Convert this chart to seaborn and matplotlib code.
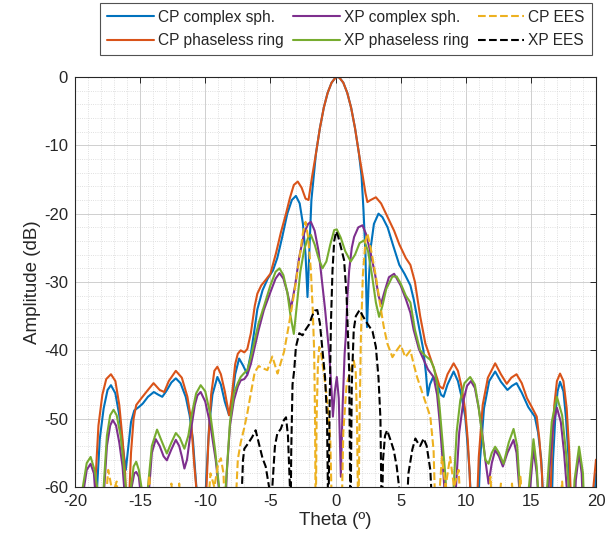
import numpy as np
import pandas as pd
import matplotlib
matplotlib.use("Agg")
import matplotlib.pyplot as plt
import seaborn as sns

# ---------------- data ----------------
theta_cp_complex = [-18.45, -18.3, -18.1, -17.8, -17.5, -17.24, -16.9, -16.6, -16.3, -16.1, -15.9, -15.7,
                    -15.45, -15.1, -14.8, -14.4, -13.95, -13.6, -13.3, -13.0, -12.6, -12.26, -11.9, -11.5,
                    -11.2, -10.95, -10.8, -10.6, -10.4, -10.1, -9.9, -9.7, -9.45, -9.07, -8.8, -8.5, -8.17,
                    -7.95, -7.7, -7.4, -7.1, -6.8, -6.5, -6.26, -6.0, -5.6, -5.2, -4.8, -4.47, -4.1, -3.7,
                    -3.35, -3.04, -2.75, -2.5, -2.3, -2.15, -2.0, -1.85, -1.5, -1.2, -0.9, -0.6, -0.3, 0.0,
                    0.15, 0.3, 0.6, 0.9, 1.2, 1.5, 1.8, 2.0, 2.15, 2.3, 2.42, 2.55, 2.7, 2.95, 3.3, 3.6, 4.0,
                    4.4, 4.9, 5.3, 5.75, 6.0, 6.3, 6.5, 6.75, 6.95, 7.08, 7.25, 7.5, 7.8, 8.1, 8.3, 8.6, 9.07,
                    9.4, 9.7, 9.96, 10.15, 10.3, 10.5, 10.9, 11.1, 11.4, 11.8, 12.26, 12.7, 13.2, 13.55, 13.9,
                    14.3, 14.8, 15.3, 15.55, 15.8, 16.05, 16.55, 16.7, 16.9, 17.05, 17.24, 17.5, 17.7, 17.9,
                    18.05, 19.75, 19.9, 20.0]
db_cp_complex = [-66, -60, -53, -48.5, -45.8, -45.1, -46.3, -49.5, -54.5, -57.5, -54, -50.5,
                 -48.8, -48.3, -47.8, -46.8, -46.1, -46.5, -46.8, -46.0, -44.7, -44.1, -44.8, -46.8,
                 -49.5, -53, -57, -62, -66, -66, -58, -51, -46.5, -43.9, -45, -47.5, -49.5,
                 -47.5, -43.5, -41.2, -42.2, -43.4, -40.5, -37.5, -34, -31.2, -29.5, -28.3, -26.5, -23.5, -20,
                 -18, -17.4, -18.5, -21.5, -26, -32.2, -25, -18, -11.2, -7.5, -4.5, -2.3, -0.83, -0.09,
                 0.0, -0.09, -0.83, -2.3, -4.5, -7.5, -11.2, -14.5, -19.5, -26, -36.6, -30, -25, -21.5, -20, -20.5, -22,
                 -24.5, -27.5, -28.8, -30.5, -32.5, -35.5, -37.5, -40, -43.5, -46.6, -45, -43.9, -44.8, -46.5, -46.8, -45, -43.1,
                 -44.5, -47, -49.7, -54, -58, -66, -66, -56, -48.5, -44.5, -43.1, -44.6, -45.8, -45.2, -44.8,
                 -46.2, -48.3, -49.7, -52, -56, -66, -66, -56, -49, -46, -44.6, -46, -50, -56,
                 -66, -66, -61, -58]

theta_cp_phaseless = [-18.55, -18.4, -18.2, -17.9, -17.6, -17.24, -16.9, -16.6, -16.35, -16.15, -16.0, -15.85,
                      -15.7, -15.5, -15.3, -14.9, -14.4, -13.97, -13.5, -13.15, -12.8, -12.26, -11.8, -11.37,
                      -11.1, -10.85, -10.6, -10.4, -10.2, -9.95, -9.75, -9.55, -9.3, -9.07, -8.8, -8.5, -8.17,
                      -7.95, -7.7, -7.5, -7.28, -7.0, -6.77, -6.5, -6.2, -6.0, -5.7, -5.36, -5.0, -4.57, -4.2,
                      -3.8, -3.5, -3.2, -2.9, -2.6, -2.3, -2.07, -1.8, -1.5, -1.2, -0.9, -0.6, -0.3, 0.0, 0.15,
                      0.3, 0.6, 0.9, 1.2, 1.5, 1.8, 2.1, 2.3, 2.45, 2.7, 3.1, 3.5, 4.1, 4.5, 4.9, 5.4, 5.75,
                      6.1, 6.5, 6.9, 7.3, 7.7, 8.0, 8.25, 8.6, 9.07, 9.4, 9.7, 9.96, 10.15, 10.3, 10.45, 10.8,
                      11.0, 11.3, 11.7, 12.26, 12.7, 13.15, 13.5, 13.9, 14.3, 14.7, 15.07, 15.45, 15.65, 15.85,
                      16.0, 16.45, 16.6, 16.8, 17.0, 17.24, 17.5, 17.75, 17.95, 18.15, 19.6, 19.8, 20.0]
db_cp_phaseless = [-66, -58, -51, -46.5, -44.2, -43.5, -44.5, -48, -53, -58, -66, -62,
                   -55, -50, -48, -47, -45.8, -44.8, -45.8, -46.1, -44.5, -43.0, -44, -46.8,
                   -50, -56.6, -62, -70, -70, -62, -53, -46.5, -43, -42.4, -43.5, -46, -49.5,
                   -46.5, -42, -40.5, -40, -40.3, -39.8, -37.5, -33.5, -31.7, -30.5, -29.7, -28.8, -25.8, -22.8,
                   -20, -17.7, -15.8, -15.3, -16.2, -17.8, -18, -14.6, -11.2, -7.5, -4.5, -2.3, -0.83, -0.09, 0.0,
                   -0.09, -0.83, -2.3, -4.5, -7.5, -11.2, -14.6, -17.0, -18.3, -18.0, -17.6, -18.5, -20.9, -22.5, -24.5, -26.5, -27.5,
                   -30, -35, -39, -41.2, -43.5, -45.3, -45.6, -43.5, -41.9, -43, -45.5, -48.8, -53, -58, -66, -66,
                   -55.6, -48, -44, -41.9, -43.5, -44.9, -44, -43.5, -44.8, -47, -48.3, -49.7, -53, -58,
                   -66, -66, -55, -48, -44.5, -43.4, -44.5, -48.5, -55, -66, -66, -60, -56]

theta_xp_complex = [-19.5, -19.3, -19.1, -18.8, -18.55, -18.4, -18.25, -17.9, -17.75, -17.55, -17.3, -17.1,
                    -16.85, -16.6, -16.35, -16.15, -16.0, -15.8, -15.65, -15.45, -15.3, -15.1, -14.9, -14.7,
                    -14.5, -14.3, -14.1, -13.8, -13.5, -13.2, -12.95, -12.6, -12.26, -12.0, -11.8, -11.6, -11.4,
                    -11.1, -10.8, -10.6, -10.35, -10.0, -9.6, -9.2, -8.85, -8.7, -8.5, -8.35, -8.1, -7.8, -7.5,
                    -7.28, -7.0, -6.77, -6.5, -6.26, -5.9, -5.5, -5.0, -4.6, -4.3, -4.0, -3.7, -3.42, -3.1, -2.78,
                    -2.4, -2.1, -1.89, -1.6, -1.3, -1.13, -0.8, -0.48, -0.3, -0.2, -0.05, 0.1, 0.25, 0.41, 0.55,
                    0.7, 0.79, 0.92, 1.05, 1.25, 1.43, 1.75, 2.07, 2.35, 2.7, 3.05, 3.3, 3.5, 3.75, 4.1, 4.5,
                    5.0, 5.4, 5.75, 6.0, 6.4, 6.77, 7.1, 7.53, 7.8, 8.0, 8.17, 8.35, 8.45, 9.1, 9.25, 9.5, 9.83,
                    10.1, 10.4, 10.7, 11.0, 11.24, 11.5, 11.75, 12.0, 12.26, 12.55, 12.85, 13.2, 13.67, 13.9,
                    14.1, 14.25, 14.8, 14.95, 15.2, 15.45, 15.6, 15.7, 16.25, 16.4, 16.7, 17.0, 17.3, 17.55,
                    17.75, 17.85, 18.3, 18.45, 18.7, 18.9, 19.05]
db_xp_complex = [-66, -60, -57.5, -56.6, -58, -62, -66, -66, -60, -54, -51, -50.2,
                 -51, -53.5, -57, -62, -66, -66, -60, -58, -57.8, -58.5, -62, -66,
                 -66, -60, -55, -53, -54, -55.5, -56.1, -54.5, -53.1, -54, -55.5, -57.3, -56,
                 -51.7, -48, -46.6, -46.1, -47.5, -51, -56, -62, -66, -66, -58, -51, -47.3, -45.3,
                 -44.4, -44.2, -43.6, -42, -40, -37, -34.1, -31.5, -29.5, -28.7, -29.5, -31.5, -33.9, -30.5, -26.3,
                 -22.8, -21.5, -21.2, -22.5, -25.5, -28.3, -34, -40.5, -46, -49.7, -46, -43.9, -47, -58.5, -48,
                 -40.5, -38, -32, -28.3, -25, -23.4, -22, -21.7, -23, -25.8, -29, -32, -33.2, -31.5, -29.3, -28.8,
                 -30.5, -32.5, -34.5, -37, -39.8, -41.4, -42.8, -43.9, -46.5, -50.5, -54.6, -60, -66, -66, -60, -52, -47.3,
                 -45.2, -44.5, -45.5, -48.5, -51.7, -56, -59.5, -56.5, -54.6, -55.5, -57, -55, -53.1, -55,
                 -60, -66, -66, -60, -54.4, -58, -62, -66, -66, -58, -51, -48.4, -50.5, -55,
                 -60, -66, -66, -59, -55, -58, -66]

theta_xp_phaseless = [-19.55, -19.4, -19.1, -18.8, -18.5, -18.3, -18.15, -17.95, -17.8, -17.55, -17.3, -17.04,
                      -16.8, -16.5, -16.25, -16.1, -15.95, -15.85, -15.7, -15.5, -15.3, -15.1, -14.9, -14.75,
                      -14.55, -14.4, -14.1, -13.7, -13.3, -12.95, -12.6, -12.26, -11.95, -11.6, -11.3, -11.0,
                      -10.7, -10.35, -10.0, -9.6, -9.25, -8.94, -8.8, -8.55, -8.43, -8.1, -7.8, -7.5, -7.28, -7.0,
                      -6.77, -6.5, -6.26, -5.9, -5.5, -5.0, -4.6, -4.3, -4.0, -3.7, -3.45, -3.2, -2.95, -2.7, -2.4,
                      -2.1, -1.89, -1.6, -1.3, -1.0, -0.7, -0.4, -0.1, 0.1, 0.4, 0.75, 1.17, 1.5, 1.85, 2.2, 2.5,
                      2.8, 3.1, 3.35, 3.6, 3.9, 4.37, 4.7, 5.0, 5.4, 5.75, 6.1, 6.5, 6.9, 7.28, 7.55, 7.8, 8.0,
                      8.2, 8.4, 8.56, 8.65, 8.95, 9.07, 9.3, 9.58, 9.9, 10.34, 10.7, 11.0, 11.3, 11.5, 11.75,
                      12.0, 12.26, 12.55, 12.9, 13.3, 13.67, 13.95, 14.15, 14.3, 14.7, 14.85, 15.2, 15.45, 15.6,
                      15.7, 16.1, 16.25, 16.6, 17.0, 17.4, 17.7, 17.9, 18.0, 18.2, 18.35, 18.7, 19.0, 19.15]
db_xp_phaseless = [-66, -60, -56.5, -55.6, -57.5, -60, -66, -66, -60, -52.5, -49.5, -48.7,
                   -49.5, -52.5, -57, -60, -66, -66, -60, -57, -56.3, -57.5, -60, -66,
                   -66, -60, -54, -51.6, -53.5, -55.1, -53.5, -52.1, -52.8, -54.4, -52.5, -49,
                   -46.3, -45.1, -46, -49.5, -54.5, -60, -66, -66, -60, -50.5, -46.3, -44.8, -43.9, -43.3,
                   -42.9, -41, -39, -36, -33.6, -30.5, -28.5, -28, -29, -31.5, -35, -37.6, -33, -28.5, -25.2,
                   -23.5, -23.1, -24.5, -26.5, -28, -27, -24.5, -22.4, -22.3, -23.5, -25.5, -27, -26, -24.3, -23.9, -25.5,
                   -29, -33, -35.1, -33.5, -31, -29.2, -29.2, -30.2, -32, -33, -37, -40, -40.8, -41.4, -42.5, -44.9, -48.5,
                   -53, -57.5, -62, -66, -66, -60, -52, -47.3, -44.8, -43.9, -45, -48.5, -53, -56, -56.6,
                   -55, -54.1, -55, -56.6, -53.5, -51.5, -54, -60, -66, -66, -60, -53, -57, -62,
                   -66, -66, -60, -50.5, -46.8, -49.5, -55, -60, -66, -66, -59, -54.1, -58, -66]

theta_cp_ees = [-17.8, -17.45, -17.1, -16.8, -16.5, -14.6, -14.3, -14.0, -12.8, -12.6, -12.3, -12.0, -11.8,
                -9.9, -9.6, -9.3, -9.0, -8.8, -8.6, -8.45, -7.75, -7.5, -7.28, -7.0, -6.77, -6.5, -6.2,
                -5.9, -5.6, -5.23, -4.85, -4.45, -3.95, -3.6, -3.3, -3.0, -2.75, -2.5, -2.3, -2.1, -1.89,
                -1.75, -1.64, -1.57, -1.52, -1.45, -1.35, -1.25, -1.1, -0.85, -0.61, -0.4, -0.25, 0.45, 0.6,
                0.85, 1.17, 1.4, 1.55, 1.65, 1.75, 1.85, 1.95, 2.1, 2.3, 2.45, 2.7, 3.1, 3.4, 3.7, 3.98,
                4.37, 4.7, 5.0, 5.36, 5.75, 6.0, 6.26, 6.77, 7.28, 7.53, 7.7, 7.8, 8.17, 8.45, 8.8, 9.1,
                9.45, 9.7, 11.6, 11.9, 12.1, 12.4, 12.7, 12.9, 13.3, 13.55, 13.8, 13.9, 14.2, 14.45, 17.1,
                17.4, 17.65]
db_cp_ees = [-66, -57.5, -61, -59.2, -66, -66, -58.3, -66, -66, -59.5, -66, -59.5, -66,
             -66, -58, -60, -56.5, -55.8, -58, -66, -66, -56, -53.5, -51.3, -49.2, -46.3, -43.2,
             -42.3, -42.6, -42.9, -40.9, -43.4, -40.2, -36.5, -33.1, -29.5, -26.3, -22.8, -21.2, -23.5, -28.3,
             -34, -40, -50, -66, -50, -42, -39.5, -40.5, -44, -47.8, -53, -66, -66, -52,
             -45, -42.9, -41.5, -43, -50, -66, -50, -38, -29, -24, -22.9, -25, -29.2, -33, -36.5, -39,
             -41, -40, -39.2, -41, -40, -42, -43.9, -46.8, -49.7, -54.6, -66, -66, -55.6, -60, -55.6, -60,
             -57.5, -66, -66, -58.5, -66, -66, -59.5, -66, -66, -59.5, -66, -66, -58.5, -66, -66,
             -59.2, -66]

theta_xp_ees = [-7.3, -7.1, -7.0, -6.7, -6.4, -6.13, -5.9, -5.6, -5.36, -5.1, -5.0, -4.85, -4.65, -4.47,
                -4.2, -3.96, -3.8, -3.65, -3.5, -3.45, -3.4, -3.3, -3.17, -3.04, -2.78, -2.53, -2.3, -2.02,
                -1.8, -1.6, -1.4, -1.2, -1.0, -0.8, -0.65, -0.55, -0.45, -0.35, -0.23, -0.1, 0.05, 0.2, 0.4,
                0.66, 0.85, 1.05, 1.15, 1.25, 1.4, 1.56, 1.85, 2.1, 2.45, 2.84, 3.1, 3.3, 3.45, 3.55, 3.65,
                3.8, 3.96, 4.2, 4.47, 4.7, 5.0, 5.15, 5.4, 5.6, 5.9, 6.13, 6.4, 6.5, 6.77, 7.0, 7.28, 7.5]
db_xp_ees = [-66, -56, -54.4, -53.6, -52.7, -51.7, -53.5, -55.8, -57, -60, -66, -60, -54, -52.2,
             -51.5, -50.2, -49.8, -52.5, -60, -66, -55, -45, -42.9, -39.5, -37.5, -37.8, -37, -36.2,
             -35, -34.2, -34.1, -36, -40, -44, -50, -66, -48, -36, -28.3, -24, -22.6, -23.3, -24.8,
             -26.8, -32, -42.9, -66, -45, -37, -35, -34.1, -35, -36.1, -37.2, -39.5, -44, -50, -66, -56,
             -52.5, -51.7, -53, -54.6, -57, -62, -66, -66, -58, -54.5, -52.9, -53.8, -54, -52.9, -54, -57.5, -66]

labels = ["CP complex sph.", "CP phaseless ring", "XP complex sph.",
          "XP phaseless ring", "CP EES", "XP EES"]
x_ticks = [-20, -15, -10, -5, 0, 5, 10, 15, 20]
y_ticks = [-60, -50, -40, -30, -20, -10, 0]

# ---------------- styling ----------------
sns.set_style("white")
plt.rcParams["font.family"] = ["Liberation Sans", "DejaVu Sans"]
plt.rcParams["axes.unicode_minus"] = False

fig = plt.figure(figsize=(6.13, 5.48), dpi=100)
ax = fig.add_axes([75 / 613, 1 - 487 / 548, (596 - 75) / 613, (487 - 77) / 548])

series = [
    (theta_cp_complex, db_cp_complex, "#0072BD", "-"),
    (theta_cp_phaseless, db_cp_phaseless, "#D95319", "-"),
    (theta_xp_complex, db_xp_complex, "#7E2F8E", "-"),
    (theta_xp_phaseless, db_xp_phaseless, "#77AC30", "-"),
    (theta_cp_ees, db_cp_ees, "#EDB120", "--"),
    (theta_xp_ees, db_xp_ees, "#000000", "--"),
]
for (th, db, col, ls), lab in zip(series, labels):
    df = pd.DataFrame({"theta": th, "db": db})
    sns.lineplot(data=df, x="theta", y="db", ax=ax, color=col, linestyle=ls,
                 linewidth=1.5, estimator=None, sort=False, label=lab)

ax.set_xlim(-20, 20)
ax.set_ylim(-60, 0)
ax.set_xticks(x_ticks)
ax.set_yticks(y_ticks)
ax.set_xticks(np.arange(-20, 21, 1), minor=True)
ax.set_yticks(np.arange(-60, 1, 2), minor=True)
ax.grid(which="major", color="#c8c8c8", linestyle="-", linewidth=0.6)
ax.grid(which="minor", color="#d6d6d6", linestyle=":", linewidth=0.6)
ax.set_axisbelow(True)
ax.tick_params(which="major", direction="in", length=4, width=0.7, top=True, right=True,
               labelsize=12, colors="#262626", pad=5)
ax.tick_params(which="minor", length=0, top=True, right=True)
for sp in ax.spines.values():
    sp.set_color("#262626")
    sp.set_linewidth(0.8)
    sp.set_visible(True)
ax.set_xlabel("Theta (º)", fontsize=13.5, color="#262626", labelpad=2)
ax.set_ylabel("Amplitude (dB)", fontsize=13.5, color="#262626", labelpad=2)

handles, labs = ax.get_legend_handles_labels()
ax.legend_.remove()
leg = fig.legend(handles, labs, loc="upper center", bbox_to_anchor=(0.5645, 0.995), ncol=3,
                 fontsize=11.2, frameon=True, fancybox=False, edgecolor="#262626",
                 handlelength=3.0, handletextpad=0.25, columnspacing=0.6, labelspacing=0.55,
                 borderpad=0.45, borderaxespad=0)
leg.get_frame().set_linewidth(0.8)

fig.savefig("out.png", dpi=100)
